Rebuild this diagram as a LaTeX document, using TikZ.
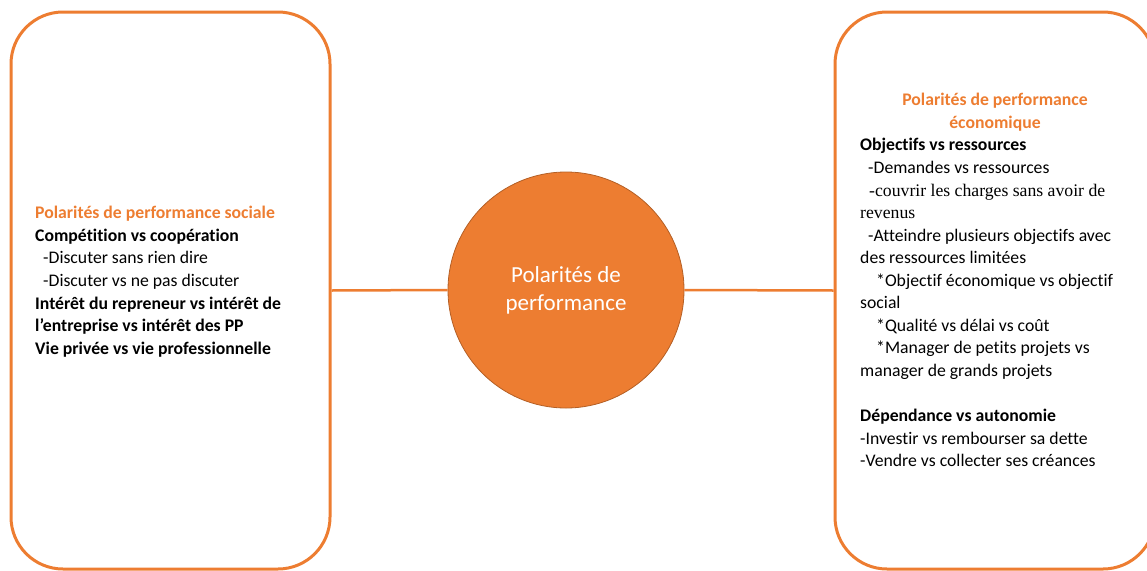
\documentclass[tikz,border=0pt]{standalone}
\usepackage{fontspec}
\setmainfont{Carlito}[Ligatures=NoCommon]
\newfontfamily\timesfont{Liberation Serif}
\usetikzlibrary{positioning, calc}
\definecolor{accent}{HTML}{ED7D31}
\definecolor{accentdark}{HTML}{B45F25}
\tikzset{
  panel/.style={draw=accent, line width=3pt, rounded corners=52pt, minimum width=320pt, minimum height=557pt},
  hub/.style={circle, draw=accentdark, line width=0.8pt, fill=accent, minimum size=236pt, text=white, align=center, font=\fontsize{23}{28}\selectfont},
  link/.style={draw=accent, line width=2.5pt},
  item/.style={anchor=base west, inner sep=0pt, font=\fontsize{17.7}{20}\selectfont},
  head/.style={item, font=\fontsize{17.7}{20}\selectfont\bfseries},
  title/.style={head, text=accent}
}
\begin{document}
\begin{tikzpicture}[x=1pt, y=-1pt]
  \useasboundingbox (0,0) rectangle (1147,570);
  \clip (0,0) rectangle (1147,570);
  % side panels and centre circle
  \node[panel, minimum width=319pt] (lbox) at (170.5,290.5) {};
  \node[panel] (rbox) at (995,290.5) {};
  \node[hub] (hub) at (566,290) {Polarités de\\performance};
  \draw[link] (lbox.east) -- (hub.west);
  \draw[link] (hub.east) -- (rbox.west);
  % social polarities
  \node[title] (s0) at (35,218) {Polarités de performance sociale};
  \node[head] (s1) at (35,241) {Compétition vs coopération};
  \node[item] (s2) at (43,263) {-Discuter sans rien dire};
  \node[item] (s3) at (43,286) {-Discuter vs ne pas discuter};
  \node[head] (s4) at (35,309) {Intérêt du repreneur vs intérêt de};
  \node[head] (s5) at (35,331.5) {l’entreprise vs intérêt des PP};
  \node[head] (s6) at (35,354) {Vie privée vs vie professionnelle};
  % economic polarities
  \node[title, anchor=base] (e0) at (995,105) {Polarités de performance};
  \node[title, anchor=base] (e1) at (995,128) {économique};
  \node[head] (e2) at (860,150) {Objectifs vs ressources};
  \node[item] (e3) at (868,173) {-Demandes vs ressources};
  \node[item, font=\fontsize{17.7}{20}\timesfont] (e4) at (869,196) {\makebox[236pt][s]{-couvrir les charges sans avoir de}};
  \node[item, font=\fontsize{17.7}{20}\timesfont] (e5) at (860,218) {revenus};
  \node[item] (e6) at (868,241) {-Atteindre plusieurs objectifs avec};
  \node[item] (e7) at (860,263.5) {des ressources limitées};
  \node[item] (e8) at (876,286) {*Objectif économique vs objectif};
  \node[item] (e9) at (860,308.5) {social};
  \node[item] (e10) at (876,331) {*Qualité vs délai vs coût};
  \node[item] (e11) at (876,353.5) {*Manager de petits projets vs};
  \node[item] (e12) at (860,376) {manager de grands projets};
  \node[head] (e13) at (860,421) {Dépendance vs autonomie};
  \node[item] (e14) at (860,444) {-Investir vs rembourser sa dette};
  \node[item] (e15) at (860,466.5) {-Vendre vs collecter ses créances};
\end{tikzpicture}
\end{document}
